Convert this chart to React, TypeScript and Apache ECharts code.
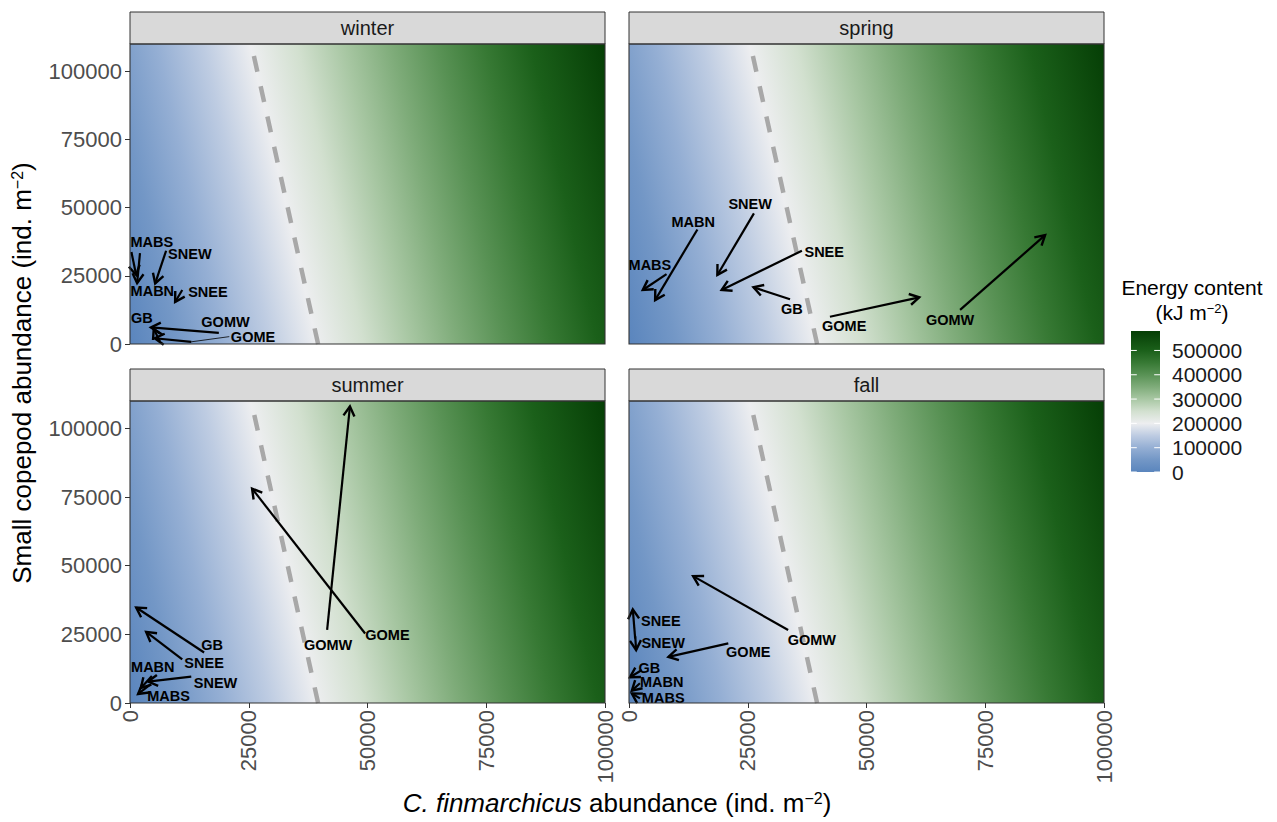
import React, { useEffect, useRef } from "react";
import * as echarts from "echarts";

// ---------------- data ----------------
const seasons = ["winter", "spring", "summer", "fall"];

// x: C. finmarchicus abundance, y: small copepod abundance (ind. m^-2)
// [region, startX, startY, endX, endY, labelX, labelY]
const winterArrows: [string, number, number, number, number, number, number][] = [
  ["GB", 6300, 900, 5000, 5500, 2500, 9600],
  ["GOME", 12900, 800, 5200, 2100, 25900, 2500],
  ["GOMW", 18700, 4100, 4400, 6100, 20100, 8200],
  ["MABN", 2100, 33300, 1500, 22300, 4700, 19500],
  ["MABS", 300, 33700, 1300, 25300, 4600, 37500],
  ["SNEE", 11000, 19800, 9500, 15400, 16400, 19200],
  ["SNEW", 7600, 34200, 5300, 22200, 12600, 32900],
];
const springArrows: [string, number, number, number, number, number, number][] = [
  ["GB", 33900, 16400, 26200, 20800, 34300, 12700],
  ["GOME", 42300, 10000, 61100, 17100, 45300, 6600],
  ["GOMW", 69700, 12500, 87600, 39900, 67600, 8800],
  ["MABN", 14400, 42000, 5500, 16100, 13500, 44800],
  ["MABS", 7900, 25600, 2900, 19800, 4400, 28900],
  ["SNEE", 36400, 34200, 19500, 19800, 41100, 33800],
  ["SNEW", 26300, 47900, 18600, 25300, 25500, 51300],
];
const summerArrows: [string, number, number, number, number, number, number][] = [
  ["GB", 15600, 18400, 1300, 34800, 17300, 21300],
  ["GOME", 49500, 25300, 25700, 78100, 54200, 24700],
  ["GOMW", 41500, 26600, 46300, 108000, 41700, 21300],
  ["MABN", 4600, 9800, 2300, 5500, 4800, 13200],
  ["MABS", 4200, 6600, 1700, 3300, 8100, 2600],
  ["SNEE", 11000, 15900, 3400, 25900, 15600, 14400],
  ["SNEW", 12900, 9600, 3800, 7800, 18000, 7400],
];
const fallArrows: [string, number, number, number, number, number, number][] = [
  ["GB", 2700, 12000, 200, 9400, 4300, 12800],
  ["GOME", 20900, 21700, 8300, 16800, 25100, 18700],
  ["GOMW", 33500, 26600, 13500, 46200, 38500, 22900],
  ["MABN", 2300, 7200, 600, 4500, 6900, 7700],
  ["MABS", 2300, 1700, 600, 3500, 7200, 1800],
  ["SNEE", 1300, 23500, 800, 34100, 6700, 29800],
  ["SNEW", 1300, 24400, 1500, 19300, 7200, 21900],
];
const seasonArrows = [winterArrows, springArrows, summerArrows, fallArrows];

// label leader segments [startX, startY, labelEdgeX, labelEdgeY]
const winterLeaders = [[12900, 800, 20900, 2700]];
const seasonLeaders = [winterLeaders, [], [], []];

// dashed threshold line
const thresholdLine = [
  [39600, 0],
  [25900, 107000],
];

const xBreaks = [0, 25000, 50000, 75000, 100000];
const yBreaks = [0, 25000, 50000, 75000, 100000];
const legendBreaks = [0, 100000, 200000, 300000, 400000, 500000];
const X_MAX = 100000;
const Y_MAX = 110000;

// energy surface (kJ per individual) and fill scale
const ENERGY_PER_CFIN = 5.08;
const ENERGY_PER_SMALL = 0.65;
const EMAX = 580000;
const energyValues = [0, 50000, 100000, 150000, 200000, 250000, 300000, 350000, 400000, 450000, 500000, 580000];
const energyColors = [
  "#5A85BD", "#7397C6", "#95AFD4", "#BECCE2", "#EDEEF0", "#D2E0CF",
  "#A8C7A3", "#7FAC7A", "#599255", "#377934", "#1B601A", "#053E05",
];

// ---------------- layout ----------------
const FONT = "'Liberation Sans', Arial, Helvetica, sans-serif";
const PANEL_W = 475;
const PANELS = [
  { left: 130, top: 44, height: 300, showX: false, showY: true },
  { left: 629, top: 44, height: 300, showX: false, showY: false },
  { left: 130, top: 401, height: 302, showX: true, showY: true },
  { left: 629, top: 401, height: 302, showX: true, showY: false },
];
const STRIP_H = 32;
const plain = (v: number) => String(v);

function stops() {
  return energyValues.map((v, i) => ({ offset: v / EMAX, color: energyColors[i] }));
}

function buildOption() {
  const grid: any[] = [];
  const xAxis: any[] = [];
  const yAxis: any[] = [];
  const series: any[] = [];
  const graphic: any[] = [];

  PANELS.forEach((p, i) => {
    grid.push({ left: p.left, top: p.top, width: PANEL_W, height: p.height, show: false, outerBoundsMode: "none", containLabel: false });
    xAxis.push({
      type: "value", gridIndex: i, min: 0, max: X_MAX, interval: 25000,
      axisLine: { show: false }, splitLine: { show: false },
      axisTick: { show: p.showX, length: 5, customValues: xBreaks, lineStyle: { color: "#333333", width: 1 } },
      axisLabel: { show: p.showX, rotate: 90, fontSize: 22, color: "#4D4D4D", margin: 7, fontFamily: FONT, customValues: xBreaks, formatter: plain },
    });
    yAxis.push({
      type: "value", gridIndex: i, min: 0, max: Y_MAX, interval: 25000,
      axisLine: { show: false }, splitLine: { show: false },
      axisTick: { show: p.showY, length: 5, customValues: yBreaks, lineStyle: { color: "#333333", width: 1 } },
      axisLabel: { show: p.showY, fontSize: 22, color: "#4D4D4D", margin: 8, fontFamily: FONT, customValues: yBreaks, formatter: plain },
    });

    // background energy surface
    series.push({
      type: "custom", xAxisIndex: i, yAxisIndex: i, silent: true, z: 1,
      data: [[0, 0]],
      renderItem: (_params: any, api: any) => {
        const p0 = api.coord([0, 0]);
        const pTR = api.coord([X_MAX, Y_MAX]);
        const pX = api.coord([1000, 0]);
        const pY = api.coord([0, 1000]);
        const ux = (pX[0] - p0[0]) / 1000;
        const uy = (p0[1] - pY[1]) / 1000;
        const A = ENERGY_PER_CFIN / ux;
        const B = ENERGY_PER_SMALL / uy;
        const k = EMAX / (A * A + B * B);
        const grad = new echarts.graphic.LinearGradient(p0[0], p0[1], p0[0] + k * A, p0[1] - k * B, stops(), true);
        return {
          type: "rect",
          shape: { x: p0[0], y: pTR[1], width: pTR[0] - p0[0], height: p0[1] - pTR[1] },
          style: { fill: grad },
        };
      },
    });

    // dashed threshold line
    series.push({
      type: "line", xAxisIndex: i, yAxisIndex: i, silent: true, z: 2,
      data: thresholdLine, symbol: "none", showSymbol: false,
      lineStyle: { color: "#A8A8A8", width: 4.5, type: [16, 15] },
      animation: false,
    });

    const rows = seasonArrows[i];
    const leaders = seasonLeaders[i];
    if (leaders.length) {
      series.push({
        type: "custom", xAxisIndex: i, yAxisIndex: i, silent: true, z: 3,
        data: leaders,
        renderItem: (_params: any, api: any) => {
          const a = api.coord([api.value(0), api.value(1)]);
          const b = api.coord([api.value(2), api.value(3)]);
          return { type: "line", shape: { x1: a[0], y1: a[1], x2: b[0], y2: b[1] }, style: { stroke: "#000", lineWidth: 0.8 } };
        },
      });
    }

    // arrows
    series.push({
      type: "custom", xAxisIndex: i, yAxisIndex: i, silent: true, z: 4,
      data: rows.map((r) => [r[1], r[2], r[3], r[4]]),
      renderItem: (_params: any, api: any) => {
        const s = api.coord([api.value(0), api.value(1)]);
        const e = api.coord([api.value(2), api.value(3)]);
        const ang = Math.atan2(e[1] - s[1], e[0] - s[0]);
        const L = 11;
        const phi = Math.PI / 6;
        const h1 = [e[0] - L * Math.cos(ang - phi), e[1] - L * Math.sin(ang - phi)];
        const h2 = [e[0] - L * Math.cos(ang + phi), e[1] - L * Math.sin(ang + phi)];
        return {
          type: "group",
          children: [
            { type: "line", shape: { x1: s[0], y1: s[1], x2: e[0], y2: e[1] }, style: { stroke: "#000", lineWidth: 2.2 } },
            { type: "polyline", shape: { points: [h1, e, h2] }, style: { stroke: "#000", lineWidth: 2.4, fill: "none" } },
          ],
        };
      },
    });

    // labels
    series.push({
      type: "custom", xAxisIndex: i, yAxisIndex: i, silent: true, z: 5,
      data: rows.map((r) => [r[5], r[6]]),
      renderItem: (params: any, api: any) => {
        const r = rows[params.dataIndex];
        const pt = api.coord([api.value(0), api.value(1)]);
        return {
          type: "text", x: pt[0], y: pt[1],
          style: {
            text: r[0], align: "center", verticalAlign: "middle", textAlign: "center", textVerticalAlign: "middle",
            fontFamily: FONT, fontWeight: "bold", fontSize: 14.5, fill: "#000",
          },
        };
      },
    });

    // strip and border
    graphic.push({
      type: "rect", z: 100,
      shape: { x: p.left, y: p.top - STRIP_H, width: PANEL_W, height: STRIP_H },
      style: { fill: "#D9D9D9", stroke: "#333333", lineWidth: 1 },
    });
    graphic.push({
      type: "text", z: 101, x: p.left + PANEL_W / 2, y: p.top - STRIP_H / 2,
      style: { text: seasons[i], align: "center", verticalAlign: "middle", textAlign: "center", textVerticalAlign: "middle", fontFamily: FONT, fontSize: 20, fill: "#1A1A1A" },
    });
    graphic.push({
      type: "rect", z: 100,
      shape: { x: p.left, y: p.top, width: PANEL_W, height: p.height },
      style: { fill: "none", stroke: "#333333", lineWidth: 1.1 },
    });
  });

  // colorbar grid
  const cbIndex = PANELS.length;
  grid.push({ left: 1131, top: 331, width: 29, height: 141, show: false, outerBoundsMode: "none", containLabel: false });
  xAxis.push({ type: "value", gridIndex: cbIndex, min: 0, max: 1, show: false });
  yAxis.push({
    type: "value", gridIndex: cbIndex, min: 0, max: EMAX, position: "right",
    axisLine: { show: false }, splitLine: { show: false }, axisTick: { show: false },
    axisLabel: { show: true, customValues: legendBreaks, fontSize: 21, color: "#1A1A1A", margin: 12, fontFamily: FONT, formatter: plain },
  });
  series.push({
    type: "custom", xAxisIndex: cbIndex, yAxisIndex: cbIndex, silent: true,
    data: [[0, 0]],
    renderItem: (_params: any, api: any) => {
      const pTop = api.coord([0, EMAX]);
      const pBot = api.coord([1, 0]);
      const w = pBot[0] - pTop[0];
      const children: any[] = [
        {
          type: "rect",
          shape: { x: pTop[0], y: pTop[1], width: w, height: pBot[1] - pTop[1] },
          style: { fill: new echarts.graphic.LinearGradient(0, 1, 0, 0, stops()) },
        },
      ];
      legendBreaks.forEach((v) => {
        const y = api.coord([0, v])[1];
        children.push({ type: "line", shape: { x1: pTop[0], y1: y, x2: pTop[0] + w / 5, y2: y }, style: { stroke: "#FFFFFF", lineWidth: 1 } });
        children.push({ type: "line", shape: { x1: pBot[0] - w / 5, y1: y, x2: pBot[0], y2: y }, style: { stroke: "#FFFFFF", lineWidth: 1 } });
      });
      return { type: "group", children };
    },
  });

  const titleRich = {
    a: { fontFamily: FONT, fontSize: 26, fill: "#000", color: "#000" },
    i: { fontFamily: FONT, fontSize: 26, fontStyle: "italic", fill: "#000", color: "#000" },
    s: { fontFamily: FONT, fontSize: 16, verticalAlign: "top", fill: "#000", color: "#000" },
  };
  graphic.push({
    type: "text", x: 617, y: 803, z: 100,
    style: {
      text: "{i|C. finmarchicus}{a| abundance (ind. m}{s|−2}{a|)}",
      rich: titleRich, align: "center", verticalAlign: "middle", textAlign: "center", textVerticalAlign: "middle",
    },
  });
  graphic.push({
    type: "text", x: 22, y: 373, rotation: Math.PI / 2, z: 100,
    style: {
      text: "{a|Small copepod abundance (ind. m}{s|−2}{a|)}",
      rich: titleRich, align: "center", verticalAlign: "middle", textAlign: "center", textVerticalAlign: "middle",
    },
  });
  const legRich = {
    a: { fontFamily: FONT, fontSize: 21, fill: "#000", color: "#000" },
    s: { fontFamily: FONT, fontSize: 13, verticalAlign: "top", fill: "#000", color: "#000" },
  };
  graphic.push({
    type: "text", x: 1192, y: 287, z: 100,
    style: { text: "{a|Energy content}", rich: legRich, align: "center", verticalAlign: "middle", textAlign: "center", textVerticalAlign: "middle" },
  });
  graphic.push({
    type: "text", x: 1192, y: 312, z: 100,
    style: { text: "{a|(kJ m}{s|−2}{a|)}", rich: legRich, align: "center", verticalAlign: "middle", textAlign: "center", textVerticalAlign: "middle" },
  });

  return {
    animation: false,
    backgroundColor: "#FFFFFF",
    textStyle: { fontFamily: FONT },
    grid, xAxis, yAxis, series, graphic,
  };
}

export default function App() {
  const ref = useRef<HTMLDivElement>(null);
  useEffect(() => {
    if (!ref.current) return;
    const chart = echarts.init(ref.current, null, { renderer: "svg" });
    chart.setOption(buildOption() as any);
    return () => chart.dispose();
  }, []);
  return (
    <div
      ref={ref}
      style={{ position: "fixed", left: 0, top: 0, width: 1277, height: 822, background: "#fff" }}
    />
  );
}
